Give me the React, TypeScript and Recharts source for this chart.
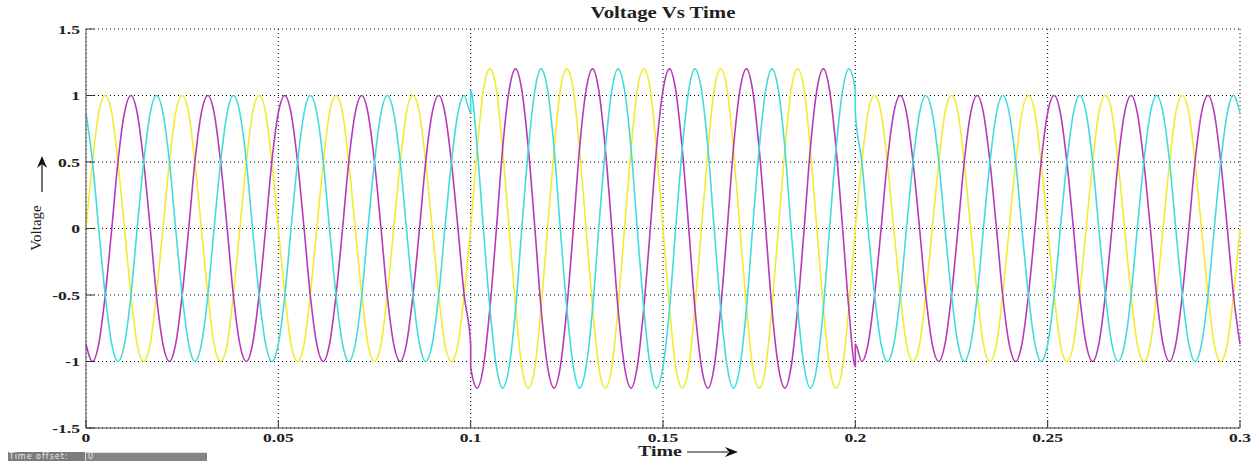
import React from 'react';
import { LineChart, Line, XAxis, YAxis, CartesianGrid } from 'recharts';

// sample times (s), 30 degree steps of a 50 Hz wave; 0.1 and 0.2 appear twice (before / after the swell step)
const time = [
  0, 0.0017, 0.0033, 0.005, 0.0067, 0.0083, 0.01, 0.0117, 0.0133, 0.015, 0.0167, 0.0183,
  0.02, 0.0217, 0.0233, 0.025, 0.0267, 0.0283, 0.03, 0.0317, 0.0333, 0.035, 0.0367, 0.0383,
  0.04, 0.0417, 0.0433, 0.045, 0.0467, 0.0483, 0.05, 0.0517, 0.0533, 0.055, 0.0567, 0.0583,
  0.06, 0.0617, 0.0633, 0.065, 0.0667, 0.0683, 0.07, 0.0717, 0.0733, 0.075, 0.0767, 0.0783,
  0.08, 0.0817, 0.0833, 0.085, 0.0867, 0.0883, 0.09, 0.0917, 0.0933, 0.095, 0.0967, 0.0983,
  0.1,
  0.1, 0.1017, 0.1033, 0.105, 0.1067, 0.1083, 0.11, 0.1117, 0.1133, 0.115, 0.1167, 0.1183,
  0.12, 0.1217, 0.1233, 0.125, 0.1267, 0.1283, 0.13, 0.1317, 0.1333, 0.135, 0.1367, 0.1383,
  0.14, 0.1417, 0.1433, 0.145, 0.1467, 0.1483, 0.15, 0.1517, 0.1533, 0.155, 0.1567, 0.1583,
  0.16, 0.1617, 0.1633, 0.165, 0.1667, 0.1683, 0.17, 0.1717, 0.1733, 0.175, 0.1767, 0.1783,
  0.18, 0.1817, 0.1833, 0.185, 0.1867, 0.1883, 0.19, 0.1917, 0.1933, 0.195, 0.1967, 0.1983,
  0.2,
  0.2, 0.2017, 0.2033, 0.205, 0.2067, 0.2083, 0.21, 0.2117, 0.2133, 0.215, 0.2167, 0.2183,
  0.22, 0.2217, 0.2233, 0.225, 0.2267, 0.2283, 0.23, 0.2317, 0.2333, 0.235, 0.2367, 0.2383,
  0.24, 0.2417, 0.2433, 0.245, 0.2467, 0.2483, 0.25, 0.2517, 0.2533, 0.255, 0.2567, 0.2583,
  0.26, 0.2617, 0.2633, 0.265, 0.2667, 0.2683, 0.27, 0.2717, 0.2733, 0.275, 0.2767, 0.2783,
  0.28, 0.2817, 0.2833, 0.285, 0.2867, 0.2883, 0.29, 0.2917, 0.2933, 0.295, 0.2967, 0.2983,
  0.3,
];

const phaseYellow = [
  0, 0.5, 0.87, 1, 0.87, 0.5, 0, -0.5, -0.87, -1, -0.87, -0.5,
  0, 0.5, 0.87, 1, 0.87, 0.5, 0, -0.5, -0.87, -1, -0.87, -0.5,
  0, 0.5, 0.87, 1, 0.87, 0.5, 0, -0.5, -0.87, -1, -0.87, -0.5,
  0, 0.5, 0.87, 1, 0.87, 0.5, 0, -0.5, -0.87, -1, -0.87, -0.5,
  0, 0.5, 0.87, 1, 0.87, 0.5, 0, -0.5, -0.87, -1, -0.87, -0.5,
  null,
  0, 0.6, 1.04, 1.2, 1.04, 0.6, 0, -0.6, -1.04, -1.2, -1.04, -0.6,
  0, 0.6, 1.04, 1.2, 1.04, 0.6, 0, -0.6, -1.04, -1.2, -1.04, -0.6,
  0, 0.6, 1.04, 1.2, 1.04, 0.6, 0, -0.6, -1.04, -1.2, -1.04, -0.6,
  0, 0.6, 1.04, 1.2, 1.04, 0.6, 0, -0.6, -1.04, -1.2, -1.04, -0.6,
  0, 0.6, 1.04, 1.2, 1.04, 0.6, 0, -0.6, -1.04, -1.2, -1.04, -0.6,
  null,
  0, 0.5, 0.87, 1, 0.87, 0.5, 0, -0.5, -0.87, -1, -0.87, -0.5,
  0, 0.5, 0.87, 1, 0.87, 0.5, 0, -0.5, -0.87, -1, -0.87, -0.5,
  0, 0.5, 0.87, 1, 0.87, 0.5, 0, -0.5, -0.87, -1, -0.87, -0.5,
  0, 0.5, 0.87, 1, 0.87, 0.5, 0, -0.5, -0.87, -1, -0.87, -0.5,
  0, 0.5, 0.87, 1, 0.87, 0.5, 0, -0.5, -0.87, -1, -0.87, -0.5,
  0,
];

const phaseMagenta = [
  -0.87, -1, -0.87, -0.5, 0, 0.5, 0.87, 1, 0.87, 0.5, 0, -0.5,
  -0.87, -1, -0.87, -0.5, 0, 0.5, 0.87, 1, 0.87, 0.5, 0, -0.5,
  -0.87, -1, -0.87, -0.5, 0, 0.5, 0.87, 1, 0.87, 0.5, 0, -0.5,
  -0.87, -1, -0.87, -0.5, 0, 0.5, 0.87, 1, 0.87, 0.5, 0, -0.5,
  -0.87, -1, -0.87, -0.5, 0, 0.5, 0.87, 1, 0.87, 0.5, 0, -0.5,
  -0.87,
  -1.04, -1.2, -1.04, -0.6, 0, 0.6, 1.04, 1.2, 1.04, 0.6, 0, -0.6,
  -1.04, -1.2, -1.04, -0.6, 0, 0.6, 1.04, 1.2, 1.04, 0.6, 0, -0.6,
  -1.04, -1.2, -1.04, -0.6, 0, 0.6, 1.04, 1.2, 1.04, 0.6, 0, -0.6,
  -1.04, -1.2, -1.04, -0.6, 0, 0.6, 1.04, 1.2, 1.04, 0.6, 0, -0.6,
  -1.04, -1.2, -1.04, -0.6, 0, 0.6, 1.04, 1.2, 1.04, 0.6, 0, -0.6,
  -1.04,
  -0.87, -1, -0.87, -0.5, 0, 0.5, 0.87, 1, 0.87, 0.5, 0, -0.5,
  -0.87, -1, -0.87, -0.5, 0, 0.5, 0.87, 1, 0.87, 0.5, 0, -0.5,
  -0.87, -1, -0.87, -0.5, 0, 0.5, 0.87, 1, 0.87, 0.5, 0, -0.5,
  -0.87, -1, -0.87, -0.5, 0, 0.5, 0.87, 1, 0.87, 0.5, 0, -0.5,
  -0.87, -1, -0.87, -0.5, 0, 0.5, 0.87, 1, 0.87, 0.5, 0, -0.5,
  -0.87,
];

const phaseCyan = [
  0.87, 0.5, 0, -0.5, -0.87, -1, -0.87, -0.5, 0, 0.5, 0.87, 1,
  0.87, 0.5, 0, -0.5, -0.87, -1, -0.87, -0.5, 0, 0.5, 0.87, 1,
  0.87, 0.5, 0, -0.5, -0.87, -1, -0.87, -0.5, 0, 0.5, 0.87, 1,
  0.87, 0.5, 0, -0.5, -0.87, -1, -0.87, -0.5, 0, 0.5, 0.87, 1,
  0.87, 0.5, 0, -0.5, -0.87, -1, -0.87, -0.5, 0, 0.5, 0.87, 1,
  0.87,
  1.04, 0.6, 0, -0.6, -1.04, -1.2, -1.04, -0.6, 0, 0.6, 1.04, 1.2,
  1.04, 0.6, 0, -0.6, -1.04, -1.2, -1.04, -0.6, 0, 0.6, 1.04, 1.2,
  1.04, 0.6, 0, -0.6, -1.04, -1.2, -1.04, -0.6, 0, 0.6, 1.04, 1.2,
  1.04, 0.6, 0, -0.6, -1.04, -1.2, -1.04, -0.6, 0, 0.6, 1.04, 1.2,
  1.04, 0.6, 0, -0.6, -1.04, -1.2, -1.04, -0.6, 0, 0.6, 1.04, 1.2,
  1.04,
  0.87, 0.5, 0, -0.5, -0.87, -1, -0.87, -0.5, 0, 0.5, 0.87, 1,
  0.87, 0.5, 0, -0.5, -0.87, -1, -0.87, -0.5, 0, 0.5, 0.87, 1,
  0.87, 0.5, 0, -0.5, -0.87, -1, -0.87, -0.5, 0, 0.5, 0.87, 1,
  0.87, 0.5, 0, -0.5, -0.87, -1, -0.87, -0.5, 0, 0.5, 0.87, 1,
  0.87, 0.5, 0, -0.5, -0.87, -1, -0.87, -0.5, 0, 0.5, 0.87, 1,
  0.87,
];

const timeTicks = [0, 0.05, 0.1, 0.15, 0.2, 0.25, 0.3];
const voltTicks = [-1.5, -1, -0.5, 0, 0.5, 1, 1.5];

const rows = time.map((t, i) => ({
  t,
  yellow: phaseYellow[i],
  magenta: phaseMagenta[i],
  cyan: phaseCyan[i],
}));

const serif = '"Liberation Serif", "Times New Roman", serif';
const tickColor = '#333';

const BottomTick = (props: any) => {
  const { x, y, payload } = props;
  return (
    <g>
      <line x1={x} x2={x} y1={y} y2={y - 8} stroke={tickColor} />
      <text
        transform={`translate(${x},${y + 14}) scale(1.35,1)`}
        textAnchor="middle"
        fontFamily={serif}
        fontWeight="bold"
        fontSize={13}
        fill="#222"
      >
        {payload.value}
      </text>
    </g>
  );
};

const TopTick = (props: any) => {
  const { x, y } = props;
  return <line x1={x} x2={x} y1={y} y2={y + 8} stroke={tickColor} />;
};

const LeftTick = (props: any) => {
  const { x, y, payload } = props;
  return (
    <g>
      <line x1={x} x2={x + 8} y1={y} y2={y} stroke={tickColor} />
      <text
        transform={`translate(${x - 6},${y + 4.5}) scale(1.35,1)`}
        textAnchor="end"
        fontFamily={serif}
        fontWeight="bold"
        fontSize={13}
        fill="#222"
      >
        {payload.value}
      </text>
    </g>
  );
};

const RightTick = (props: any) => {
  const { x, y } = props;
  return <line x1={x - 8} x2={x} y1={y} y2={y} stroke={tickColor} />;
};

export default function App() {
  return (
    <div style={{ position: 'absolute', left: 0, top: 0, width: 1256, height: 461, background: '#fff', overflow: 'hidden' }}>
      <LineChart width={1256} height={461} data={rows} margin={{ top: 29, right: 16, bottom: 0, left: 26 }}>
        <CartesianGrid stroke="#000" strokeDasharray="1 3" />
        <XAxis
          dataKey="t"
          type="number"
          domain={[0, 0.3]}
          ticks={timeTicks}
          height={33}
          tickSize={0}
          tickMargin={0}
          tickLine={false}
          axisLine={{ stroke: '#444' }}
          tick={<BottomTick />}
          interval={0}
        />
        <XAxis
          xAxisId="top"
          orientation="top"
          dataKey="t"
          type="number"
          domain={[0, 0.3]}
          ticks={timeTicks}
          height={0}
          tickSize={0}
          tickMargin={0}
          tickLine={false}
          axisLine={{ stroke: '#777' }}
          tick={<TopTick />}
          interval={0}
        />
        <YAxis
          type="number"
          domain={[-1.5, 1.5]}
          ticks={voltTicks}
          width={60}
          tickSize={0}
          tickMargin={0}
          tickLine={false}
          axisLine={{ stroke: '#555' }}
          tick={<LeftTick />}
          interval={0}
        />
        <YAxis
          yAxisId="right"
          orientation="right"
          type="number"
          domain={[-1.5, 1.5]}
          ticks={voltTicks}
          width={0}
          tickSize={0}
          tickMargin={0}
          tickLine={false}
          axisLine={{ stroke: '#222' }}
          tick={<RightTick />}
          interval={0}
        />
        <Line dataKey="yellow" type="monotone" stroke="#f2ec30" strokeWidth={1.6} dot={false} connectNulls isAnimationActive={false} />
        <Line dataKey="magenta" type="monotone" stroke="#b63ab6" strokeWidth={1.6} dot={false} isAnimationActive={false} />
        <Line dataKey="cyan" type="monotone" stroke="#40dcdc" strokeWidth={1.6} dot={false} isAnimationActive={false} />
      </LineChart>

      <div
        style={{
          position: 'absolute',
          left: 463,
          width: 400,
          top: 5,
          textAlign: 'center',
          fontFamily: serif,
          fontWeight: 'bold',
          fontSize: 16,
          lineHeight: '16px',
          color: '#222',
          transform: 'scaleX(1.3)',
          transformOrigin: 'center',
          whiteSpace: 'nowrap',
        }}
      >
        Voltage Vs Time
      </div>

      <div
        style={{
          position: 'absolute',
          left: 638,
          top: 445,
          fontFamily: serif,
          fontWeight: 'bold',
          fontSize: 14,
          lineHeight: '14px',
          color: '#222',
          transform: 'scaleX(1.42)',
          transformOrigin: 'left',
          whiteSpace: 'nowrap',
        }}
      >
        Time
      </div>

      <div
        style={{
          position: 'absolute',
          left: 36,
          top: 228,
          fontFamily: serif,
          fontSize: 15,
          lineHeight: '15px',
          color: '#222',
          transform: 'translate(-50%, -50%) rotate(-90deg)',
          whiteSpace: 'nowrap',
        }}
      >
        Voltage
      </div>

      <svg width={1256} height={461} style={{ position: 'absolute', left: 0, top: 0, pointerEvents: 'none' }}>
        <line x1={42} x2={42} y1={192} y2={164} stroke="#111" strokeWidth={1.2} />
        <polygon points="42,156 37,168 42,164 47,168" fill="#111" />
        <line x1={687} x2={728} y1={452} y2={452} stroke="#111" strokeWidth={1.2} />
        <polygon points="738,452 725,447 729,452 725,457" fill="#111" />
      </svg>

      <div
        style={{
          position: 'absolute',
          left: 8,
          top: 452,
          width: 199,
          height: 9,
          background: '#7c7c7c',
          fontFamily: '"DejaVu Sans", Verdana, sans-serif',
          fontSize: 8,
          lineHeight: '9px',
          letterSpacing: '1px',
          color: '#e8e8e8',
        }}
      >
        <span style={{ position: 'absolute', left: 1, top: 0 }}>Time offset:</span>
        <div
          style={{
            position: 'absolute',
            left: 77,
            top: 0,
            width: 122,
            height: 9,
            background: '#858585',
            borderLeft: '1px solid #e0e0e0',
            borderTop: '1px solid #e0e0e0',
            boxSizing: 'border-box',
            paddingLeft: 2,
            lineHeight: '8px',
          }}
        >
          0
        </div>
      </div>
    </div>
  );
}
